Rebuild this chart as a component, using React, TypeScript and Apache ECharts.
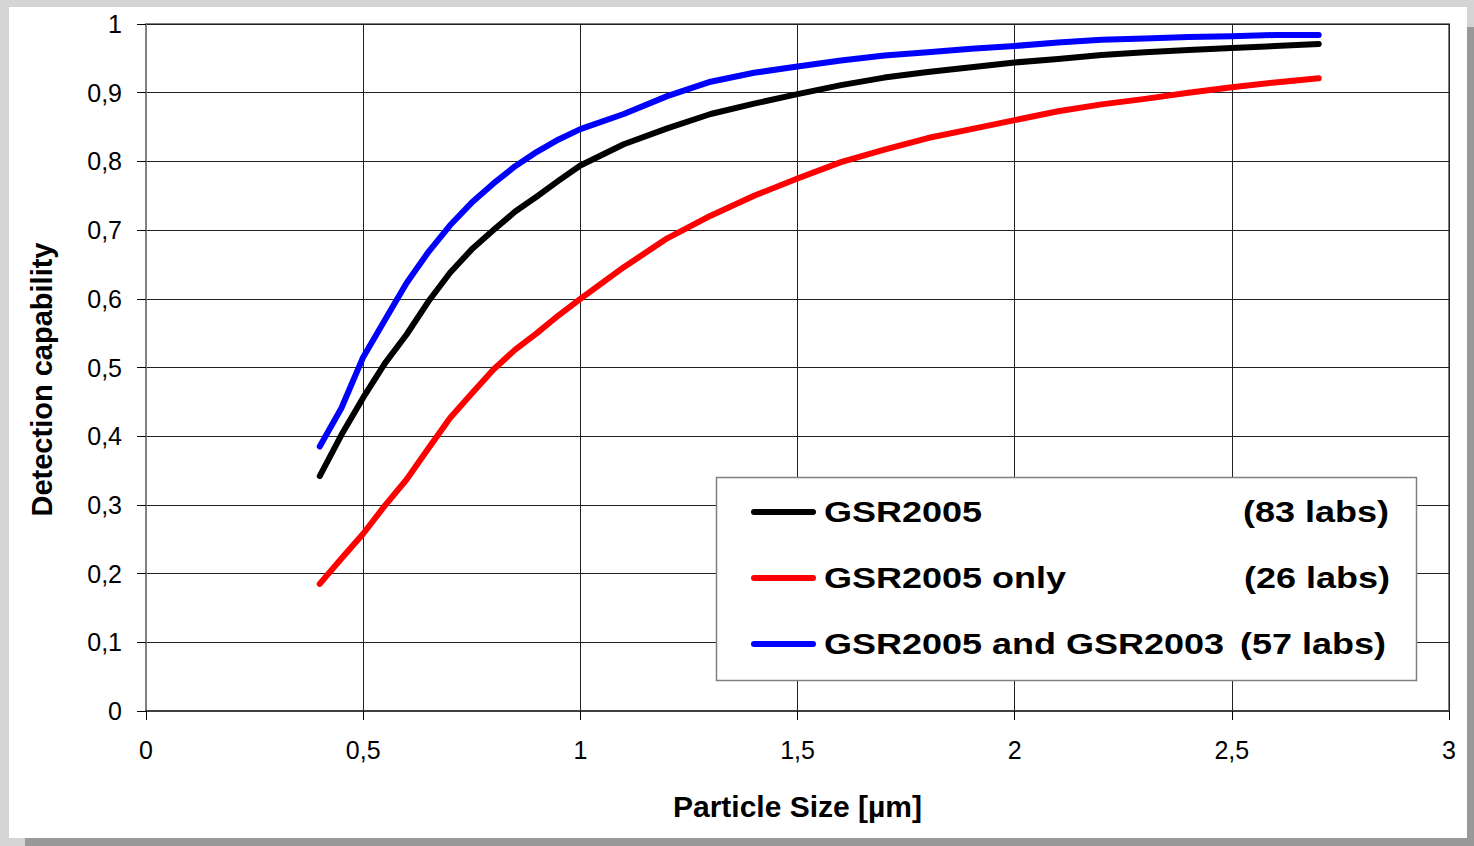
import React, { useEffect, useRef } from 'react';
import * as echarts from 'echarts';

// Particle size [µm]
const sizes = [0.4, 0.45, 0.5, 0.55, 0.6, 0.65, 0.7, 0.75, 0.8, 0.85, 0.9, 0.95, 1.0, 1.1, 1.2, 1.3, 1.4, 1.5, 1.6, 1.7, 1.8, 1.9, 2.0, 2.1, 2.2, 2.3, 2.4, 2.5, 2.6, 2.7];

const gsr2005 = [0.342, 0.402, 0.456, 0.506, 0.548, 0.596, 0.638, 0.672, 0.7, 0.727, 0.749, 0.772, 0.794, 0.825, 0.848, 0.869, 0.884, 0.898, 0.911, 0.922, 0.93, 0.937, 0.944, 0.949, 0.955, 0.959, 0.962, 0.965, 0.968, 0.971];
const gsr2005Only = [0.185, 0.222, 0.258, 0.299, 0.337, 0.382, 0.4265, 0.462, 0.497, 0.526, 0.55, 0.576, 0.6, 0.646, 0.688, 0.721, 0.75, 0.775, 0.799, 0.817, 0.834, 0.847, 0.86, 0.873, 0.883, 0.891, 0.9, 0.908, 0.915, 0.921];
const gsr2005And2003 = [0.385, 0.441, 0.515, 0.569, 0.623, 0.668, 0.707, 0.74, 0.768, 0.793, 0.814, 0.832, 0.847, 0.869, 0.895, 0.916, 0.929, 0.938, 0.947, 0.954, 0.959, 0.964, 0.968, 0.973, 0.977, 0.979, 0.981, 0.982, 0.984, 0.984];

const seriesNames = ['GSR2005', 'GSR2005 only', 'GSR2005 and GSR2003'];
const labCounts = ['(83 labs)', '(26 labs)', '(57 labs)'];
const seriesColors = ['#000000', '#ff0000', '#0000ff'];
const seriesValues = [gsr2005, gsr2005Only, gsr2005And2003];

const FONT = '"Liberation Sans", Arial, Helvetica, sans-serif';

const fmt = (v: number) => String(Math.round(v * 10) / 10).replace('.', ',');

export default function App() {
  const ref = useRef<HTMLDivElement>(null);

  useEffect(() => {
    if (!ref.current) return;
    const chart = echarts.init(ref.current, undefined, { renderer: 'svg' });

    const legendRowsY = [512, 578, 644];
    const legendEls: any[] = [
      {
        type: 'rect',
        z: 50,
        shape: { x: 716.5, y: 477.5, width: 700, height: 203 },
        style: { fill: '#ffffff', stroke: '#808080', lineWidth: 1.5 },
      },
    ];
    seriesNames.forEach((name, i) => {
      const y = legendRowsY[i];
      legendEls.push({
        type: 'line',
        z: 51,
        shape: { x1: 754, y1: y, x2: 813, y2: y },
        style: { stroke: seriesColors[i], lineWidth: 6, lineCap: 'round' },
      });
      legendEls.push({
        type: 'text',
        z: 51,
        x: 824,
        y: y,
        scaleX: 1.2,
        style: {
          text: name,
          fill: '#000',
          font: `bold 30px ${FONT}`,
          fontSize: 30,
          fontWeight: 'bold',
          fontFamily: FONT,
          align: 'left',
          textAlign: 'left',
          verticalAlign: 'middle',
          textVerticalAlign: 'middle',
        },
      });
      legendEls.push({
        type: 'text',
        z: 51,
        x: [1389, 1390, 1386][i],
        y: y,
        scaleX: 1.2,
        style: {
          text: labCounts[i],
          fill: '#000',
          font: `bold 30px ${FONT}`,
          fontSize: 30,
          fontWeight: 'bold',
          fontFamily: FONT,
          align: 'right',
          textAlign: 'right',
          verticalAlign: 'middle',
          textVerticalAlign: 'middle',
        },
      });
    });

    const option: any = {
      animation: false,
      graphic: [
        { type: 'rect', z: -100, shape: { x: 0, y: 0, width: 1474, height: 846 }, style: { fill: '#d4d4d4' } },
        { type: 'rect', z: -99, shape: { x: 25, y: 27, width: 1449, height: 819 }, style: { fill: '#999999' } },
        { type: 'rect', z: -98, shape: { x: 9, y: 7, width: 1458, height: 831 }, style: { fill: '#ffffff' } },
        ...legendEls,
      ],
      grid: {
        left: 146,
        top: 24,
        width: 1303,
        height: 687,
        show: true,
        borderColor: '#808080',
        borderWidth: 2,
        backgroundColor: 'transparent',
      },
      xAxis: {
        type: 'value',
        min: 0,
        max: 3,
        interval: 0.5,
        name: 'Particle Size [µm]',
        nameLocation: 'middle',
        nameGap: 80,
        nameTextStyle: { fontFamily: FONT, fontWeight: 'bold', fontSize: 30, color: '#000' },
        axisLine: { show: true, onZero: false, lineStyle: { color: '#404040', width: 2 } },
        axisTick: { show: true, length: 9, lineStyle: { color: '#000', width: 1 } },
        axisLabel: { formatter: fmt, fontFamily: FONT, fontSize: 25, color: '#000', margin: 26 },
        splitLine: { show: true, lineStyle: { color: '#222', width: 1 } },
      },
      yAxis: {
        type: 'value',
        min: 0,
        max: 1,
        interval: 0.1,
        name: 'Detection capability',
        nameLocation: 'middle',
        nameGap: 90,
        nameTextStyle: { fontFamily: FONT, fontWeight: 'bold', fontSize: 29, color: '#000', padding: [0, 24, 0, 0] },
        axisLine: { show: true, lineStyle: { color: '#808080', width: 2 } },
        axisTick: { show: true, length: 9, lineStyle: { color: '#000', width: 1 } },
        axisLabel: { formatter: fmt, fontFamily: FONT, fontSize: 25, color: '#000', margin: 24 },
        splitLine: { show: true, lineStyle: { color: '#222', width: 1 } },
      },
      series: seriesNames.map((name, i) => ({
        name,
        type: 'line',
        showSymbol: false,
        symbol: 'none',
        z: 10,
        data: sizes.map((s, j) => [s, seriesValues[i][j]]),
        lineStyle: { color: seriesColors[i], width: 6, cap: 'round', join: 'round' },
        itemStyle: { color: seriesColors[i] },
      })),
    };

    chart.setOption(option);
    return () => {
      chart.dispose();
    };
  }, []);

  return (
    <div
      ref={ref}
      style={{ position: 'absolute', left: 0, top: 0, width: 1474, height: 846 }}
    />
  );
}
